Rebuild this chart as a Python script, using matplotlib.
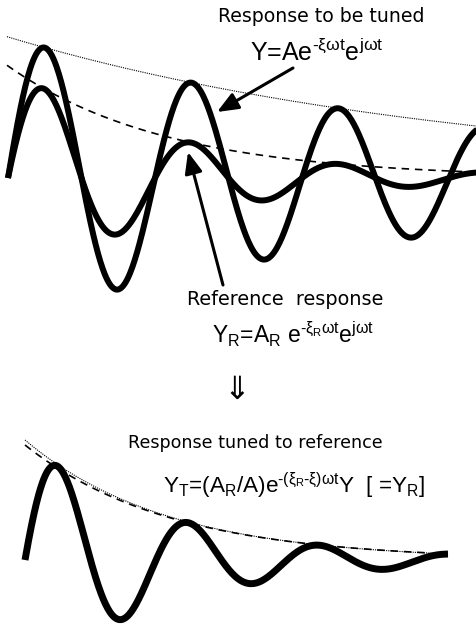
import numpy as np
import matplotlib.pyplot as plt

plt.rcParams['font.family'] = ['DejaVu Sans']
plt.rcParams['mathtext.fontset'] = 'custom'
plt.rcParams['mathtext.rm'] = 'Liberation Sans'
plt.rcParams['mathtext.it'] = 'Liberation Sans'
plt.rcParams['mathtext.bf'] = 'Liberation Sans'

# values (pixel units of the 477x626 drawing)
top_x = [8, 477]          # start / end of the top curves
bottom_x = [25, 448]      # start / end of the bottom curve
top_baseline = 178
bottom_baseline = 560
top_period = 147
bottom_period = 131

# amplitude at start and ratio of successive half-cycle peaks
tuned_amp, tuned_decay = 141, 0.855      # Y = A e^-xi w t
ref_amp, ref_decay = 112, 0.63           # Y_R
final_amp, final_decay = 118, 0.63       # Y_T (= Y_R)
final_env_amp = [120, 115]               # dotted, dashed envelopes at bottom
final_dash_end = 430


def decay_rate(decay, period):
    return -np.log(decay) / (period / 2)


def response(t, amp, decay, period):
    return amp * np.exp(-decay_rate(decay, period) * t) * np.sin(2 * np.pi * t / period)


def envelope(t, amp, decay, period):
    return amp * np.exp(-decay_rate(decay, period) * t)


fig = plt.figure(figsize=(4.77, 6.26), dpi=100)
ax = fig.add_axes([0, 0, 1, 1])
ax.set_xlim(0, 477)
ax.set_ylim(626, 0)
ax.axis('off')

# top panel
x = np.linspace(top_x[0], top_x[1], 600)
t = x - top_x[0]
ax.plot(x, top_baseline - response(t, tuned_amp, tuned_decay, top_period),
        color='black', lw=4.3, solid_capstyle='butt')
ax.plot(x, top_baseline - response(t, ref_amp, ref_decay, top_period),
        color='black', lw=4.3, solid_capstyle='butt')
xe = np.linspace(top_x[0] - 1, top_x[1], 300)
te = xe - top_x[0]
ax.plot(xe, top_baseline - envelope(te, tuned_amp, tuned_decay, top_period),
        color='black', lw=0.8, ls=(0, (1, 1)))
ax.plot(xe, top_baseline - envelope(te, ref_amp, ref_decay, top_period),
        color='black', lw=1.2, ls=(0, (4.5, 3.5)))

# bottom panel
x = np.linspace(bottom_x[0], bottom_x[1], 600)
t = x - bottom_x[0]
ax.plot(x, bottom_baseline - response(t, final_amp, final_decay, bottom_period),
        color='black', lw=5.0, solid_capstyle='butt')
ax.plot(x, bottom_baseline - envelope(t, final_env_amp[0], final_decay, bottom_period),
        color='black', lw=0.8, ls=(0, (1, 1)))
xd = np.linspace(bottom_x[0], final_dash_end, 300)
td = xd - bottom_x[0]
ax.plot(xd, bottom_baseline - envelope(td, final_env_amp[1], final_decay * 1.01, bottom_period),
        color='black', lw=1.2, ls=(0, (4.5, 3.5)))

# labels
hy = '\u2010'
fam = ['Liberation Sans', 'DejaVu Sans']
ax.text(218, 22, 'Response to be tuned', fontsize=13.6, ha='left', va='baseline')
ax.text(250, 61, 'Y=Ae$^{' + hy + r'\xi\omega t}$e$^{j\omega t}$', fontsize=18,
        family=fam, ha='left', va='baseline')
ax.text(187, 305, 'Reference  response', fontsize=13.9, ha='left', va='baseline')
ax.text(212, 343, 'Y$_R$=A$_R$ e$^{' + hy + r'\xi_R\omega t}$e$^{j\omega t}$',
        fontsize=16.5, family=fam, ha='left', va='baseline')
ax.text(237, 390, '\u21d3', fontsize=23, ha='center', va='center')
ax.text(128, 448, 'Response tuned to reference', fontsize=12.6, ha='left', va='baseline')
ax.text(163, 493, 'Y$_T$=(A$_R$/A)e$^{' + hy + r'(\xi_R' + hy + r'\xi)\omega t}$Y  [ =Y$_R$]',
        fontsize=16.2, family=fam, ha='left', va='baseline')

# arrows
arrow = dict(arrowstyle='-|>,head_length=0.8,head_width=0.33', color='black',
             lw=2.2, mutation_scale=16, shrinkA=0, shrinkB=0)
ax.annotate('', xy=(217, 112), xytext=(293, 68), arrowprops=arrow)
ax.annotate('', xy=(188, 152), xytext=(223, 285), arrowprops=arrow)

fig.savefig('out.png', dpi=100)
